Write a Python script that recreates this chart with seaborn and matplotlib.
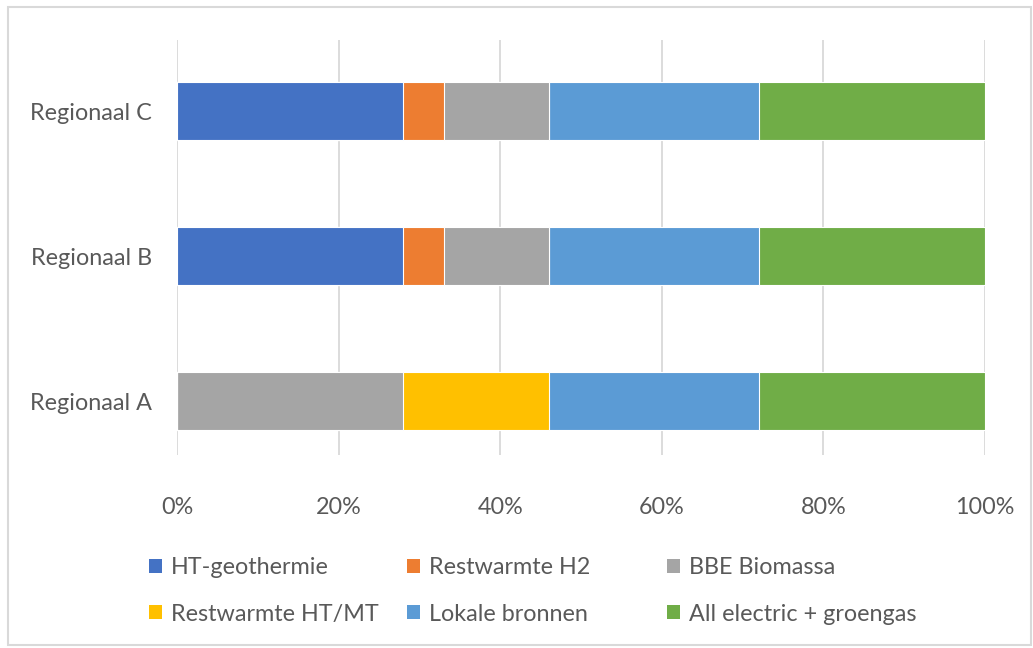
import numpy as np
import pandas as pd
import seaborn as sns
import matplotlib.pyplot as plt
from matplotlib.ticker import FuncFormatter
from matplotlib.patches import Patch, Rectangle

# data (percent share per region)
regions = ["Regionaal C", "Regionaal B", "Regionaal A"]
series = ["HT-geothermie", "Restwarmte H2", "BBE Biomassa",
          "Restwarmte HT/MT", "Lokale bronnen", "All electric + groengas"]
ht_geothermie = [28, 28, 0]
restwarmte_h2 = [5, 5, 0]
bbe_biomassa = [13, 13, 28]
restwarmte_htmt = [0, 0, 18]
lokale_bronnen = [26, 26, 26]
all_electric = [28, 28, 28]
colors = ["#4472C4", "#ED7D31", "#A5A5A5", "#FFC000", "#5B9BD5", "#70AD47"]

df = pd.DataFrame({
    "region": regions,
    series[0]: ht_geothermie,
    series[1]: restwarmte_h2,
    series[2]: bbe_biomassa,
    series[3]: restwarmte_htmt,
    series[4]: lokale_bronnen,
    series[5]: all_electric,
})

sns.set_theme(style="white")
plt.rcParams["font.family"] = ["Lato", "DejaVu Sans"]
text_col = "#595959"
fs = 16.8

fig = plt.figure(figsize=(10.33, 6.48), dpi=100)
ax = fig.add_axes([0.1713, 0.2978, 0.7822, 0.6402])

# stacked bars: draw cumulative totals from the largest down
cum = df[series].cumsum(axis=1)
for name, col in reversed(list(zip(series, colors))):
    sns.barplot(x=cum[name], y=df["region"], order=regions, orient="h",
                color=col, width=0.4, edgecolor="white", linewidth=0.8,
                saturation=1, ax=ax, zorder=3)

ax.set_xlim(0, 100)
ax.set_ylim(2.37, -0.49)
ax.set_xticks(range(0, 101, 20))
ax.xaxis.set_major_formatter(FuncFormatter(lambda v, p: f"{int(v)}%"))
ax.grid(axis="x", color="#d9d9d9", linewidth=1.3, zorder=0)
ax.grid(axis="y", visible=False)
for s in ax.spines.values():
    s.set_visible(False)
ax.tick_params(axis="x", length=0, pad=30, labelsize=fs, labelcolor=text_col)
ax.tick_params(axis="y", length=0, pad=18, labelsize=fs, labelcolor=text_col)
ax.set_xlabel("")
ax.set_ylabel("")

# legend: three equal-width columns, filled row by row
handles = [Patch(facecolor=c, edgecolor="none") for c in colors]
col_x = [149 / 1033, 407 / 1033, 667 / 1033]
for j, x0 in enumerate(col_x):
    idx = [j, j + 3]
    leg = fig.legend([handles[i] for i in idx], [series[i] for i in idx],
                     loc="upper left", bbox_to_anchor=(x0, 1 - 557 / 648),
                     borderaxespad=0, borderpad=0, frameon=False,
                     fontsize=fs, labelcolor=text_col,
                     handlelength=0.55, handleheight=0.55, handletextpad=0.4,
                     labelspacing=1.1)

# light frame round the chart area
fig.patches.append(Rectangle((0.008, 0.004), 0.99, 0.985, transform=fig.transFigure,
                             fill=False, edgecolor="#d9d9d9", linewidth=1.5))

fig.savefig("out.png", dpi=100)
